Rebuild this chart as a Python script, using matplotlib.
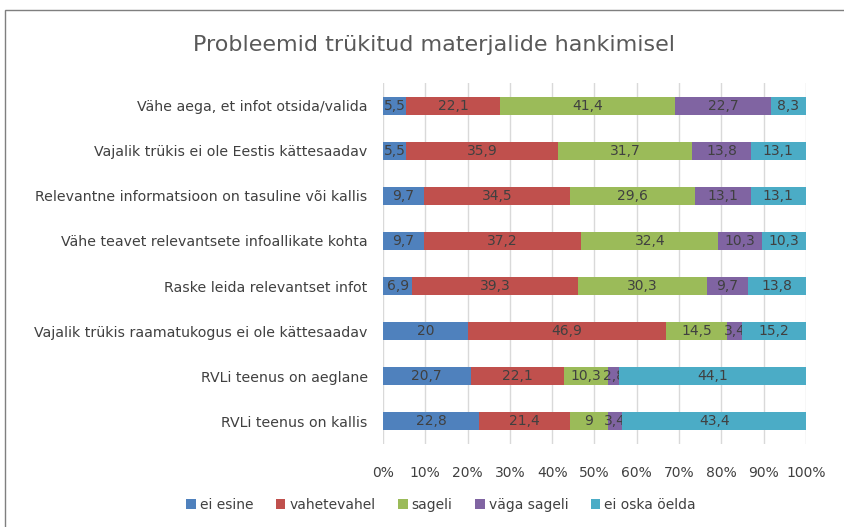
import matplotlib
matplotlib.use("Agg")
import matplotlib.pyplot as plt
from matplotlib.patches import Rectangle
import numpy as np

categories = [
    "Vähe aega, et infot otsida/valida",
    "Vajalik trükis ei ole Eestis kättesaadav",
    "Relevantne informatsioon on tasuline või kallis",
    "Vähe teavet relevantsete infoallikate kohta",
    "Raske leida relevantset infot",
    "Vajalik trükis raamatukogus ei ole kättesaadav",
    "RVLi teenus on aeglane",
    "RVLi teenus on kallis",
]
series_names = ["ei esine", "vahetevahel", "sageli", "väga sageli", "ei oska öelda"]
ei_esine     = [5.5, 5.5, 9.7, 9.7, 6.9, 20, 20.7, 22.8]
vahetevahel  = [22.1, 35.9, 34.5, 37.2, 39.3, 46.9, 22.1, 21.4]
sageli       = [41.4, 31.7, 29.6, 32.4, 30.3, 14.5, 10.3, 9]
vaga_sageli  = [22.7, 13.8, 13.1, 10.3, 9.7, 3.4, 2.8, 3.4]
ei_oska      = [8.3, 13.1, 13.1, 10.3, 13.8, 15.2, 44.1, 43.4]
xticklabels = ["0%", "10%", "20%", "30%", "40%", "50%", "60%", "70%", "80%", "90%", "100%"]

colors = ["#4F81BD", "#C0504D", "#9BBB59", "#8064A2", "#4BACC6"]
txt = "#404040"

plt.rcParams['font.family'] = ['DejaVu Sans']

fig = plt.figure(figsize=(8.45, 5.27), dpi=100)
ax = fig.add_axes([383/845, 1-444/527, (806-383)/845, (444-83)/527])

data = [ei_esine, vahetevahel, sageli, vaga_sageli, ei_oska]
y = np.arange(len(categories))
left = np.zeros(len(categories))
for vals, name, c in zip(data, series_names, colors):
    vals = np.array(vals, dtype=float)
    bars = ax.barh(y, vals, left=left, height=0.4, color=c, label=name, zorder=3)
    labels = [("%g" % v).replace(".", ",") for v in vals]
    ax.bar_label(bars, labels=labels, label_type="center", color=txt, fontsize=10)
    left += vals

ax.set_xlim(0, 100)
ax.set_ylim(len(categories) - 0.5, -0.5)
ax.set_yticks(y)
ax.set_yticklabels(categories, fontsize=10.2, color=txt)
ax.set_xticks(np.arange(0, 101, 10))
ax.set_xticklabels(xticklabels, fontsize=10, color=txt)
ax.tick_params(axis="y", length=0, pad=11)
ax.tick_params(axis="x", length=0, pad=16)
ax.grid(axis="x", color="#D9D9D9", linewidth=1, zorder=0)
for s in ax.spines.values():
    s.set_visible(False)

fig.text(434/845, 1-45/527, "Probleemid trükitud materjalide hankimisel",
         ha="center", va="center", fontsize=16, color="#595959")

fig.legend(loc="center", bbox_to_anchor=(441/845, 1-505/527), ncol=5, frameon=False,
           fontsize=10, labelcolor=txt, handlelength=0.7, handleheight=0.7,
           handletextpad=0.3, columnspacing=1.6)

fig.patches.append(Rectangle((5/845, -0.2), 1.2, 1.2 - 10/527, transform=fig.transFigure,
                             fill=False, edgecolor="#7F7F7F", linewidth=1))

fig.savefig("out.png", dpi=100)
